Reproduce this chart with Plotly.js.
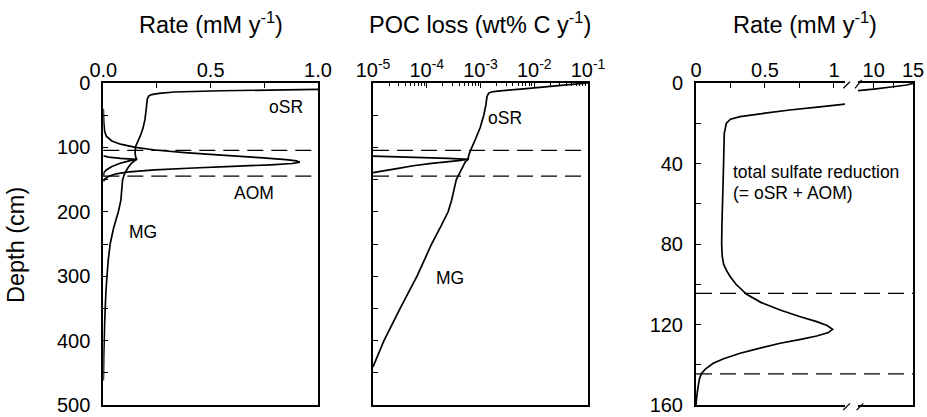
<!DOCTYPE html>
<html>
<head>
<meta charset="utf-8">
<script src="https://cdn.plot.ly/plotly-3.0.1.min.js"></script>
<style>html,body{margin:0;padding:0;background:#fff;}#chart{width:927px;height:417px;}</style>
</head>
<body>
<div id="chart"></div>
<script>
// ---------- Data ----------
// Panel 1: rates (mM/y) vs depth (cm)
const depthOSR = [0, 3, 6, 8, 10, 12, 14, 16, 18, 20, 25, 40, 57, 70, 80, 90, 99, 108, 114, 118.5, 121, 125, 130, 135, 139, 145];
const rateOSR  = [15, 8, 3, 1.6, 1.0, 0.55, 0.33, 0.26, 0.225, 0.212, 0.205, 0.2, 0.194, 0.185, 0.175, 0.162, 0.15, 0.148, 0.15, 0.155, 0.12, 0.075, 0.038, 0.014, 0.003, 0];

const depthAOM = [40, 60, 75, 83, 90, 95, 100, 104, 108, 112, 116, 119, 121, 123, 125, 127, 129.5, 132, 135, 138, 141, 145, 149, 153];
const rateAOM  = [0, 0.002, 0.006, 0.015, 0.04, 0.08, 0.15, 0.24, 0.38, 0.55, 0.73, 0.85, 0.9, 0.915, 0.88, 0.78, 0.6, 0.42, 0.24, 0.12, 0.06, 0.025, 0.008, 0];

const depthMG = [113, 115, 117, 118.5, 121, 125, 130, 140, 150, 165, 182, 200, 225, 250, 275, 300, 325, 350, 375, 400, 425, 450, 462];
const rateMG  = [0, 0.025, 0.08, 0.155, 0.145, 0.13, 0.118, 0.1, 0.09, 0.086, 0.082, 0.07, 0.048, 0.032, 0.023, 0.017, 0.012, 0.009, 0.006, 0.004, 0.002, 0.001, 0];

// Panel 2: POC loss (wt% C / y) vs depth (cm)
const depthPocOSR = [0, 3, 6, 9, 11, 12.5, 14, 16, 21, 34, 50, 70, 90, 105, 113, 118.5, 120.5, 124.7, 128.5, 132.5, 136, 139.2];
const pocOSR      = [0.1, 0.04, 0.0158, 0.0063, 0.0033, 0.0021, 0.00158, 0.00141, 0.00132, 0.00126, 0.00115, 0.00098, 0.00078, 0.00065, 0.0006, 0.00059, 0.00039, 0.000123, 0.000056, 0.0000295, 0.0000166, 0.00001];

const depthPocMG = [113.4, 115.4, 117, 118.5, 122, 130, 150, 182, 200, 220, 250, 300, 350, 400, 441];
const pocMG      = [0.00001, 0.00006, 0.00025, 0.00059, 0.000525, 0.00047, 0.000355, 0.00029, 0.00025, 0.00019, 0.000123, 0.000066, 0.000032, 0.000016, 0.00001];

// Panel 3: total sulfate reduction (mM/y) vs depth (cm)
const depthTotal = [0, 1, 2, 3, 4, 6, 8, 10, 10.4, 12, 13.4, 15, 16.7, 18, 20, 25, 40, 58, 70, 80, 86, 90, 93, 96, 100, 105, 109, 112.8, 116, 118.6, 120.5, 122.4, 124, 125.7, 127.5, 129.3, 132, 134.3, 137, 139.3, 142, 144.3, 147, 151, 155, 157.5, 160];
const rateTotal  = [15.2, 14.2, 12.2, 10, 7.6, 4, 2.2, 1.25, 1.1, 0.88, 0.68, 0.5, 0.32, 0.25, 0.22, 0.205, 0.2, 0.193, 0.188, 0.186, 0.19, 0.2, 0.22, 0.246, 0.29, 0.367, 0.47, 0.61, 0.75, 0.875, 0.95, 0.99, 0.96, 0.875, 0.75, 0.61, 0.45, 0.32, 0.2, 0.125, 0.07, 0.04, 0.025, 0.015, 0.007, 0.003, 0];

// Sulfate-methane transition zone bounds (dashed lines), cm
const smtzDepths = [104.5, 144.5];

// Tick labels
const pocTickVals = [1e-5, 1e-4, 1e-3, 1e-2, 1e-1];
const pocTickText = ['10<sup>-5</sup>', '10<sup>-4</sup>', '10<sup>-3</sup>', '10<sup>-2</sup>', '10<sup>-1</sup>'];

// Text labels
const panelTitles = ['Rate (mM y<sup>-1</sup>)', 'POC loss (wt% C y<sup>-1</sup>)', 'Rate (mM y<sup>-1</sup>)'];
const depthTitle = 'Depth (cm)';

// ---------- Layout helpers ----------
const W = 927, H = 417;
const px = v => v / W;
const py = v => 1 - v / H;
const FONT = 'Liberation Sans, Arial, Helvetica, sans-serif';
const yDom = [py(405), py(83)];
const dom1 = [px(103.3), px(318)];
const dom2 = [px(373), px(588)];
const dom3a = [px(696), px(845)];
const dom3b = [px(858), px(913)];

// minor log ticks (axis decoration)
const pocMinor = [];
for (let e = -5; e <= -2; e++) for (let k = 2; k <= 9; k++) pocMinor.push(k * Math.pow(10, e));

const lineStyle = {color: '#000', width: 1.7, simplify: false};
function tr(x, y, xa, ya) {
  return {x: x, y: y, xaxis: xa, yaxis: ya, type: 'scatter', mode: 'lines', line: lineStyle, hoverinfo: 'skip', showlegend: false};
}
const traces = [
  tr(rateOSR, depthOSR, 'x', 'y'),
  tr(rateAOM, depthAOM, 'x', 'y'),
  tr(rateMG, depthMG, 'x', 'y'),
  tr(pocOSR, depthPocOSR, 'x2', 'y2'),
  tr(pocMG, depthPocMG, 'x2', 'y2'),
  tr(rateTotal, depthTotal, 'x3', 'y3'),
  tr(rateTotal, depthTotal, 'x4', 'y4')
];

const tickFont = {family: FONT, size: 20, color: '#000'};
const baseAxis = {
  showline: true, linecolor: '#000', linewidth: 2, showgrid: false, zeroline: false,
  ticks: 'inside', ticklen: 5, tickwidth: 1, tickcolor: '#000', tickfont: tickFont,
  fixedrange: true
};
function ax(extra) { return Object.assign({}, baseAxis, extra); }

const dashStyle = {color: '#000', width: 1.2, dash: '16px,8px'};
const shapes = [];
smtzDepths.forEach(d => {
  shapes.push({type: 'line', xref: 'x domain', yref: 'y', x0: 0, x1: 1, y0: d, y1: d, line: dashStyle});
  shapes.push({type: 'line', xref: 'x2 domain', yref: 'y2', x0: 0, x1: 1, y0: d, y1: d, line: dashStyle});
  shapes.push({type: 'line', xref: 'paper', yref: 'y3', x0: px(696), x1: px(913), y0: d, y1: d, line: dashStyle});
});
// axis-break marks
const brk = {color: '#000', width: 1.2};
[[843.3, 88.3, 850, 81.7], [855, 88.3, 861.7, 80], [843.3, 410, 850, 403.3], [856.7, 410, 863.3, 403.3]].forEach(s => {
  shapes.push({type: 'line', xref: 'paper', yref: 'paper', x0: px(s[0]), y0: py(s[1]), x1: px(s[2]), y1: py(s[3]), line: brk});
});

const annFont = {family: FONT, size: 17.5, color: '#000'};
const titleFont = {family: FONT, size: 23.5, color: '#000'};
function ann(o) { return Object.assign({showarrow: false, xanchor: 'center', yanchor: 'middle', font: annFont}, o); }
const annotations = [
  ann({text: panelTitles[0], xref: 'paper', yref: 'paper', x: px(210.5), y: py(23), font: titleFont}),
  ann({text: panelTitles[1], xref: 'paper', yref: 'paper', x: px(480.5), y: py(23), font: titleFont}),
  ann({text: panelTitles[2], xref: 'paper', yref: 'paper', x: px(804.5), y: py(23), font: titleFont}),
  ann({text: depthTitle, xref: 'paper', yref: 'paper', x: px(16), y: py(245), textangle: -90, font: titleFont}),
  ann({text: 'oSR', xref: 'x', yref: 'y', x: 0.85, y: 37}),
  ann({text: 'AOM', xref: 'x', yref: 'y', x: 0.70, y: 171}),
  ann({text: 'MG', xref: 'x', yref: 'y', x: 0.185, y: 231}),
  ann({text: 'oSR', xref: 'x2', yref: 'y2', x: -2.54, y: 55}),
  ann({text: 'MG', xref: 'x2', yref: 'y2', x: -3.57, y: 303}),
  ann({text: 'total sulfate reduction', xref: 'paper', yref: 'paper', x: px(731), y: py(171.7), xanchor: 'left'}),
  ann({text: '(= oSR + AOM)', xref: 'paper', yref: 'paper', x: px(731), y: py(192.7), xanchor: 'left'})
];

const layout = {
  width: W, height: H,
  margin: {l: 0, r: 0, t: 0, b: 0},
  paper_bgcolor: '#fff', plot_bgcolor: 'rgba(0,0,0,0)',
  font: {family: FONT, color: '#000'},
  showlegend: false,
  xaxis: ax({domain: dom1, anchor: 'y', side: 'top', range: [0, 1], dtick: 0.5, tick0: 0, tickformat: '.1f', mirror: true,
    ticklabelstandoff: -4, minor: {dtick: 0.25, ticks: 'inside', ticklen: 5, tickcolor: '#000'}}),
  yaxis: ax({domain: yDom, anchor: 'x', range: [500, 0], dtick: 100, tick0: 0, mirror: true,
    ticklabelstandoff: 7, minor: {dtick: 50, ticks: 'inside', ticklen: 5, tickcolor: '#000'}}),
  xaxis2: ax({domain: dom2, anchor: 'y2', side: 'top', type: 'log', range: [-5, -1], tickmode: 'array', tickvals: pocTickVals, ticktext: pocTickText, mirror: true,
    ticklabelstandoff: -4, minor: {tickmode: 'array', tickvals: pocMinor, ticks: 'inside', ticklen: 3, tickcolor: '#000'}}),
  yaxis2: ax({domain: yDom, anchor: 'x2', range: [500, 0], dtick: 100, tick0: 0, showticklabels: false, mirror: true,
    minor: {dtick: 50, ticks: 'inside', ticklen: 5, tickcolor: '#000'}}),
  xaxis3: ax({domain: dom3a, anchor: 'y3', side: 'top', range: [0, 1.08], dtick: 0.5, tick0: 0, mirror: true,
    ticklabelstandoff: -4, minor: {dtick: 0.25, ticks: 'inside', ticklen: 5, tickcolor: '#000'}}),
  yaxis3: ax({domain: yDom, anchor: 'x3', range: [160, 0], dtick: 40, tick0: 0,
    ticklabelstandoff: 7, minor: {dtick: 20, ticks: 'inside', ticklen: 5, tickcolor: '#000'}}),
  xaxis4: ax({domain: dom3b, anchor: 'y4', side: 'top', range: [8, 15], dtick: 5, tick0: 0, mirror: true,
    ticklabelstandoff: -4, minor: {dtick: 2.5, ticks: 'inside', ticklen: 5, tickcolor: '#000'}}),
  yaxis4: ax({domain: yDom, anchor: 'x4', side: 'right', range: [160, 0], ticks: '', showticklabels: false}),
  shapes: shapes,
  annotations: annotations
};

Plotly.newPlot('chart', traces, layout, {displayModeBar: false, staticPlot: true});
</script>
</body>
</html>
